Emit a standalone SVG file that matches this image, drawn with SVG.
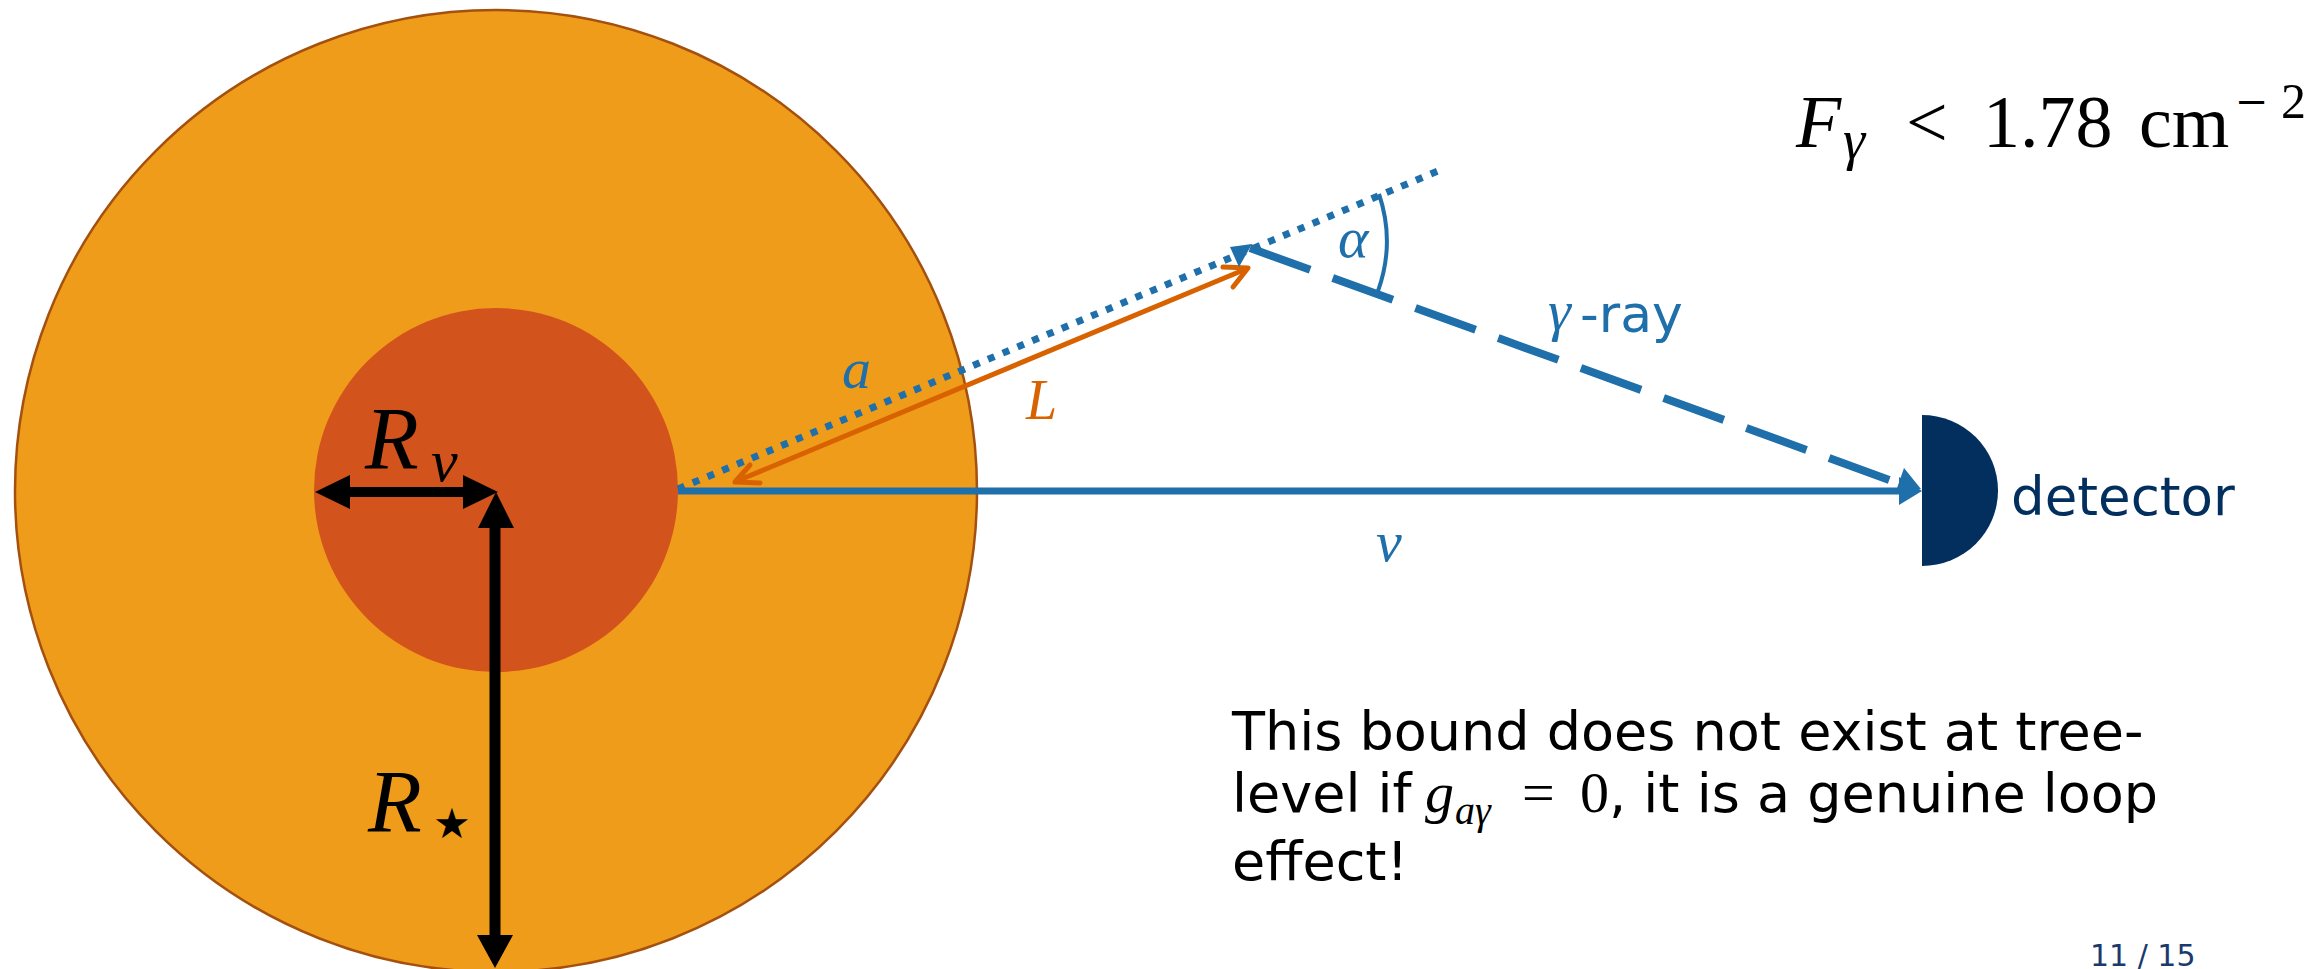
<svg xmlns="http://www.w3.org/2000/svg" width="2323" height="969" viewBox="0 0 2323 969">
<style>
.blue{fill:none;stroke:#1E6FAA;}
.blk{fill:none;stroke:#000;}
.mi{font-family:"Liberation Serif","DejaVu Serif",serif;font-style:italic;}
.mr{font-family:"Liberation Serif","DejaVu Serif",serif;}
.sans{font-family:"DejaVu Sans","Verdana",sans-serif;}
.bl{fill:#1E6FAA;}
.or{fill:#D96200;}
</style>
<rect x="0" y="0" width="2323" height="969" fill="#fff"/>
<g id="star">
<circle cx="496" cy="491" r="481" fill="#F09C1B" stroke="#A4500E" stroke-width="2.5"/>
</g>
<g id="core">
<circle cx="496" cy="490" r="182" fill="#D2531C"/>
</g>
<g id="detector">
<path d="M1922,415 A76,75.5 0 0 1 1922,566 Z" fill="#022F5E"/>
<text x="2011" y="515" class="sans" font-size="53" fill="#022F5E">detector</text>
</g>
<g id="connectors">
<line x1="345" y1="492" x2="468" y2="492" class="blk" stroke-width="10"/>
<polygon points="315,492 350,475 350,509" fill="#000"/>
<polygon points="498,492 463,475 463,509" fill="#000"/>
<line x1="495" y1="520" x2="495" y2="940" class="blk" stroke-width="11"/>
<polygon points="496,492 478,528 514,528" fill="#000"/>
<polygon points="495,968 477,935 513,935" fill="#000"/>
<line x1="678" y1="491" x2="1902" y2="491" class="blue" stroke-width="7"/>
<polygon points="1922,491 1899,477 1899,505" class="bl"/>
<line x1="678" y1="489" x2="1438" y2="171" class="blue" stroke-width="7" stroke-dasharray="7 9"/>
<line x1="737" y1="481" x2="1246" y2="269" stroke="#D96200" stroke-width="5" fill="none"/>
<polyline points="760,483 735,482 750,465" stroke="#D96200" stroke-width="5" fill="none" stroke-linecap="round" stroke-linejoin="round"/>
<polyline points="1223,267 1248,268 1233,287" stroke="#D96200" stroke-width="5" fill="none" stroke-linecap="round" stroke-linejoin="round"/>
<polygon points="1230,247 1252,244 1239,267" class="bl"/>
<line x1="1250" y1="248" x2="1895" y2="482" class="blue" stroke-width="8" stroke-dasharray="64 24"/>
<polygon points="1921,489 1904,468 1895,494" class="bl"/>
<path d="M1379,194 A148,148 0 0 1 1378,291" class="blue" stroke-width="4"/>
</g>
<g id="labels">
<text x="365" y="468" class="mi" font-size="88">R</text>
<text x="431" y="481" class="mi" font-size="60">ν</text>
<text x="368" y="831" class="mi" font-size="88">R</text>
<text x="433" y="838" class="sans" font-size="42">★</text>
<text x="842" y="388" class="mi bl" font-size="58">a</text>
<text x="1026" y="419" class="mi or" font-size="56">L</text>
<text x="1338" y="257" class="mi bl" font-size="58">α</text>
<text x="1376" y="561" class="mi bl" font-size="58">ν</text>
<text x="1548" y="330" class="mi bl" font-size="58">γ</text>
<text x="1580" y="332" class="sans bl" font-size="52">-ray</text>
</g>
<g id="formula">
<text x="1796" y="147" class="mi" font-size="74">F</text>
<text x="1843" y="159" class="mi" font-size="56">γ</text>
<text x="1906" y="147" class="mr" font-size="74">&lt;</text>
<text x="1983" y="147" class="mr" font-size="74">1.78</text>
<text x="2139" y="147" class="mr" font-size="74">cm</text>
<text x="2235" y="115" font-family="DejaVu Serif, serif" font-size="40">−</text>
<text x="2281" y="118" class="mr" font-size="50">2</text>
</g>
<g id="note">
<text x="1232" y="750" class="sans" font-size="54">This bound does not exist at tree-</text>
<text x="1232" y="812" class="sans" font-size="54">level if</text>
<text x="1425" y="812" class="mi" font-size="58">g</text>
<text x="1455" y="824" class="mi" font-size="40">aγ</text>
<text x="1522" y="812" class="mr" font-size="58">=</text>
<text x="1580" y="812" class="mr" font-size="58">0</text>
<text x="1609" y="812" class="sans" font-size="54">, it is a genuine loop</text>
<text x="1232" y="880" class="sans" font-size="54">effect!</text>
<text x="2090" y="966" class="sans" font-size="30" fill="#1B3A6B">11 / 15</text>
</g>
</svg>
